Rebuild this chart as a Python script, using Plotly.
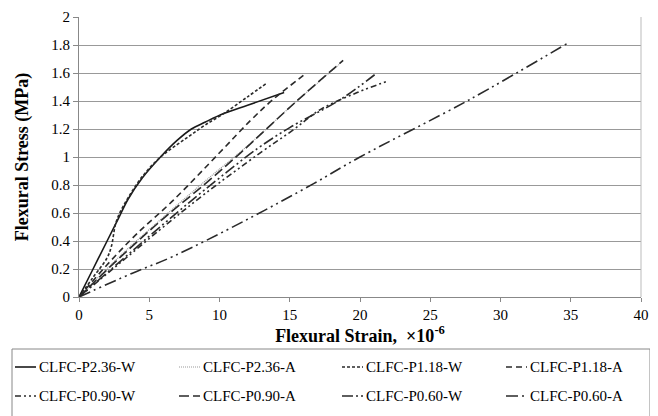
import plotly.graph_objects as go

# Series data (strain x10^-6, stress MPa)
names = ["CLFC-P2.36-W", "CLFC-P2.36-A", "CLFC-P1.18-W", "CLFC-P1.18-A",
         "CLFC-P0.90-W", "CLFC-P0.90-A", "CLFC-P0.60-W", "CLFC-P0.60-A"]

p236w_x = [0, 1, 2, 2.8, 3.5, 4.5, 5.8, 7, 8, 9, 10.3, 12, 14.6]
p236w_y = [0, 0.2, 0.4, 0.56, 0.7, 0.85, 1.0, 1.12, 1.2, 1.25, 1.31, 1.37, 1.46]

p236a_x = [0, 3, 6, 9, 12, 15.5, 18.5]
p236a_y = [0, 0.3, 0.57, 0.83, 1.08, 1.40, 1.66]

p118w_x = [0, 1, 2, 2.3, 2.6, 2.9, 3.5, 4.5, 5.8, 7, 8, 9, 10.3, 12, 13.4]
p118w_y = [0, 0.14, 0.28, 0.36, 0.52, 0.6, 0.71, 0.86, 1.0, 1.09, 1.16, 1.23, 1.31, 1.43, 1.53]

p118a_x = [0, 2, 4, 6.7, 10, 12.2, 13.8, 16.2]
p118a_y = [0, 0.23, 0.44, 0.69, 1.03, 1.26, 1.41, 1.60]

p090w_x = [0, 3, 6, 9, 12.9, 15.2, 17.2, 19.8, 21.9]
p090w_y = [0, 0.25, 0.5, 0.74, 1.03, 1.19, 1.34, 1.46, 1.54]

p090a_x = [0, 3, 6, 9, 11.5, 15.5, 18.8]
p090a_y = [0, 0.29, 0.56, 0.81, 1.03, 1.40, 1.69]

p060w_x = [0, 3, 6, 9, 12.7, 15.0, 18.6, 21.2]
p060w_y = [0, 0.26, 0.52, 0.77, 1.06, 1.21, 1.41, 1.60]

p060a_x = [0, 3.8, 6.7, 11.9, 16.7, 20.0, 27.8, 34.9]
p060a_y = [0, 0.17, 0.29, 0.55, 0.81, 1.0, 1.41, 1.82]

xs = [p236w_x, p236a_x, p118w_x, p118a_x, p090w_x, p090a_x, p060w_x, p060a_x]
ys = [p236w_y, p236a_y, p118w_y, p118a_y, p090w_y, p090a_y, p060w_y, p060a_y]

styles = [
    dict(color="#1a1a1a", width=1.6, dash="solid"),
    dict(color="#9a9a9a", width=1.2, dash="1px,1px"),
    dict(color="#2a2a2a", width=1.6, dash="3px,2px"),
    dict(color="#2a2a2a", width=1.6, dash="6px,4px"),
    dict(color="#2a2a2a", width=1.6, dash="6px,3px,2px,3px,2px,3px"),
    dict(color="#2a2a2a", width=1.6, dash="10px,4px"),
    dict(color="#2a2a2a", width=1.6, dash="11px,3px,2px,3px,2px,3px"),
    dict(color="#2a2a2a", width=1.6, dash="12px,4px,2px,4px,2px,4px"),
]

font_family = "Times New Roman, Liberation Serif, DejaVu Serif, Noto Serif, serif"

# The page adds an 8px body margin; the figure is sized so the whole page is 658x416.
FIG_W, FIG_H = 650, 408
ML, MR, MT, MB = 71, 17, 9, 119
PW = FIG_W - ML - MR
PH = FIG_H - MT - MB
OFF = 8


def px_to_paper(px, py):
    """Convert page pixel position to paper coordinates."""
    return (px - OFF - ML) / PW, 1 - (py - OFF - MT) / PH


fig = go.Figure()
for n, x, y, s in zip(names, xs, ys, styles):
    fig.add_trace(go.Scatter(x=x, y=y, mode="lines", name=n, line=s,
                             line_shape="spline", showlegend=False))

# Manual legend (4 columns x 2 rows) built from names and styles
col_text_x = [37, 201, 364, 528]
row_y = [367, 396]
shapes = []
annotations = []
bx0, by0 = px_to_paper(12, 349)
bx1, by1 = px_to_paper(650, 430)
shapes.append(dict(type="rect", xref="paper", yref="paper", x0=bx0, x1=bx1, y0=by1, y1=by0,
                   line=dict(color="#888888", width=1), fillcolor="rgba(0,0,0,0)", layer="above"))
for i, (n, s) in enumerate(zip(names, styles)):
    r, c = divmod(i, 4)
    tx, ty = col_text_x[c], row_y[r]
    sx0, sy = px_to_paper(tx - 22, ty)
    sx1, _ = px_to_paper(tx - 1, ty)
    shapes.append(dict(type="line", xref="paper", yref="paper", x0=sx0, x1=sx1, y0=sy, y1=sy,
                       line=s, layer="above"))
    ax, ay = px_to_paper(tx, ty)
    annotations.append(dict(xref="paper", yref="paper", x=ax, y=ay, xanchor="left",
                            yanchor="middle", text=n, showarrow=False,
                            font=dict(family=font_family, size=15, color="black")))

fig.update_layout(
    width=FIG_W, height=FIG_H,
    margin=dict(l=ML, r=MR, t=MT, b=MB, autoexpand=False),
    paper_bgcolor="white", plot_bgcolor="white",
    font=dict(family=font_family, size=15, color="black"),
    showlegend=False,
    shapes=shapes,
    annotations=annotations,
)
fig.update_xaxes(
    range=[0, 40], dtick=5, tick0=0,
    showgrid=False, showline=True, linecolor="#888888", linewidth=1,
    ticks="outside", ticklen=4, tickcolor="#888888", mirror=False,
    tickfont=dict(family=font_family, size=15),
    title=dict(text="<b>Flexural Strain,  ×10<sup>-6</sup></b>", standoff=0,
               font=dict(family=font_family, size=18)),
    zeroline=False, automargin=False,
)
fig.update_yaxes(
    range=[0, 2], dtick=0.2, tick0=0,
    showgrid=True, gridcolor="#999999", gridwidth=1,
    showline=True, linecolor="#888888", linewidth=1,
    ticks="outside", ticklen=5, tickcolor="#888888",
    tickfont=dict(family=font_family, size=15),
    title=dict(text="<b>Flexural Stress (MPa)</b>", standoff=17,
               font=dict(family=font_family, size=18)),
    zeroline=False, automargin=False,
)
# right border
fig.add_shape(type="line", xref="paper", yref="paper", x0=1, x1=1, y0=0, y1=1,
              line=dict(color="#bbbbbb", width=1))

fig.write_html("out.html")
